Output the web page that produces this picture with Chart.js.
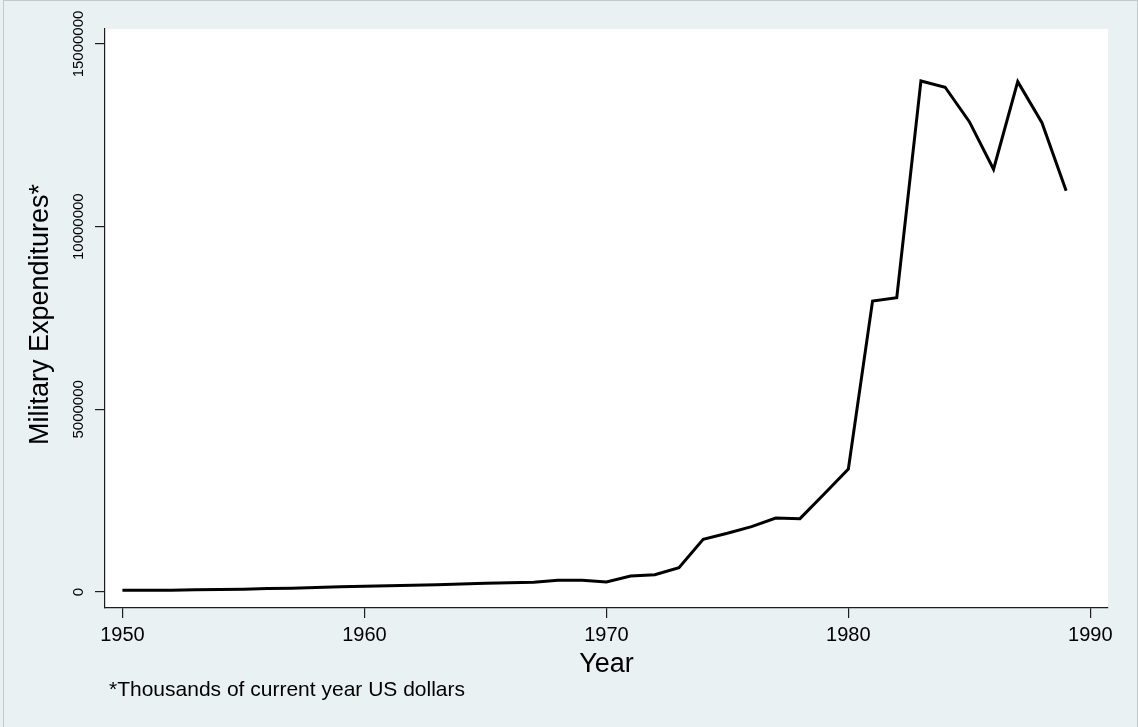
<!DOCTYPE html>
<html>
<head>
<meta charset="utf-8">
<script src="https://cdn.jsdelivr.net/npm/chart.js@4.4.1/dist/chart.umd.min.js"></script>
<style>
  html, body { margin: 0; padding: 0; background: #eaf1f3; overflow: hidden; }
  canvas { display: block; }
</style>
</head>
<body>
<canvas id="chart" width="1138" height="727" style="width:1138px;height:727px"></canvas>
<script>
// Military expenditures by year (thousands of current-year US dollars)
const years = [
  1950, 1951, 1952, 1953, 1954, 1955, 1956, 1957, 1958, 1959,
  1960, 1961, 1962, 1963, 1964, 1965, 1966, 1967, 1968, 1969,
  1970, 1971, 1972, 1973, 1974, 1975, 1976, 1977, 1978, 1979,
  1980, 1981, 1982, 1983, 1984, 1985, 1986, 1987, 1988, 1989
];
const expenditures = [
  47000, 47000, 49000, 63000, 68000, 74000, 93000, 101000, 123000, 142000,
  156000, 170000, 183000, 197000, 219000, 238000, 255000, 268000, 320000, 320000,
  274000, 438000, 474000, 665000, 1443000, 1607000, 1788000, 2026000, 2007000, 2683000,
  3367000, 7966000, 8056000, 13988000, 13816000, 12874000, 11571000, 13969000, 12847000, 10985000
];
const xTickValues = [1950, 1960, 1970, 1980, 1990];
const xTickLabels = ['1950', '1960', '1970', '1980', '1990'];
const yTickValues = [0, 5000000, 10000000, 15000000];
const yTickLabels = ['0', '5000000', '10000000', '15000000'];
const xTitle = 'Year';
const yTitle = 'Military Expenditures*';
const noteText = '*Thousands of current year US dollars';

const FONT = '"Liberation Sans", Arial, sans-serif';
const PAGE_BG = '#eaf1f3';
const AXIS_COLOR = '#1e1e1e';

// Paints the page background, the white plot region, and all the text.
const decorations = {
  id: 'decorations',
  beforeDraw(chart) {
    const { ctx, chartArea: a } = chart;
    ctx.save();
    ctx.fillStyle = PAGE_BG;
    ctx.fillRect(0, 0, chart.width, chart.height);
    ctx.fillStyle = '#ffffff';
    ctx.fillRect(a.left, a.top, a.right - a.left, a.bottom - a.top);
    ctx.strokeStyle = '#c3c8ca';
    ctx.lineWidth = 1;
    ctx.strokeRect(3.5, 0.5, 1134, 760);
    ctx.restore();
  },
  afterDraw(chart) {
    const { ctx, chartArea: a } = chart;
    const xs = chart.scales.x;
    const ys = chart.scales.y;
    ctx.save();
    ctx.fillStyle = '#000000';

    // vertical tick labels on the y axis
    ctx.font = '15px ' + FONT;
    ctx.textAlign = 'center';
    ctx.textBaseline = 'alphabetic';
    ys.ticks.forEach((t, i) => {
      const py = ys.getPixelForValue(t.value);
      ctx.save();
      ctx.translate(83, py);
      ctx.rotate(-Math.PI / 2);
      ctx.fillText(yTickLabels[i], 0, 0);
      ctx.restore();
    });

    // x tick labels
    ctx.font = '20px ' + FONT;
    xs.ticks.forEach((t, i) => {
      ctx.fillText(xTickLabels[i], xs.getPixelForValue(t.value), 641);
    });

    // axis titles
    ctx.font = '27px ' + FONT;
    ctx.fillText(xTitle, (a.left + a.right) / 2, 672);
    ctx.save();
    ctx.translate(48, (a.top + a.bottom) / 2 - 4);
    ctx.rotate(-Math.PI / 2);
    ctx.fillText(yTitle, 0, 0);
    ctx.restore();

    // note under the plot
    ctx.font = '21px ' + FONT;
    ctx.textAlign = 'left';
    ctx.fillText(noteText, 109, 696);
    ctx.restore();
  }
};

new Chart(document.getElementById('chart'), {
  type: 'line',
  data: {
    datasets: [{
      data: years.map((yr, i) => ({ x: yr, y: expenditures[i] })),
      borderColor: '#000000',
      borderWidth: 3,
      borderJoinStyle: 'miter',
      pointRadius: 0,
      tension: 0,
      fill: false
    }]
  },
  options: {
    responsive: false,
    animation: false,
    devicePixelRatio: 1,
    layout: { padding: { left: 0, top: 29, right: 30, bottom: 0 } },
    plugins: { legend: { display: false }, tooltip: { enabled: false } },
    scales: {
      x: {
        type: 'linear',
        min: 1949.28,
        max: 1990.73,
        afterBuildTicks: s => { s.ticks = xTickValues.map(v => ({ value: v })); },
        afterFit: s => { s.height = 119; },
        ticks: { display: false },
        grid: { drawOnChartArea: false, drawTicks: true, tickLength: 10, color: AXIS_COLOR, lineWidth: 1.2 },
        border: { display: true, color: AXIS_COLOR, width: 1.2 }
      },
      y: {
        type: 'linear',
        min: -438000,
        max: 15410000,
        afterBuildTicks: s => { s.ticks = yTickValues.map(v => ({ value: v })); },
        afterFit: s => { s.width = 105; },
        ticks: { display: false },
        grid: { drawOnChartArea: false, drawTicks: true, tickLength: 10, color: AXIS_COLOR, lineWidth: 1.2 },
        border: { display: true, color: AXIS_COLOR, width: 1.2 }
      }
    }
  },
  plugins: [decorations]
});
</script>
</body>
</html>
